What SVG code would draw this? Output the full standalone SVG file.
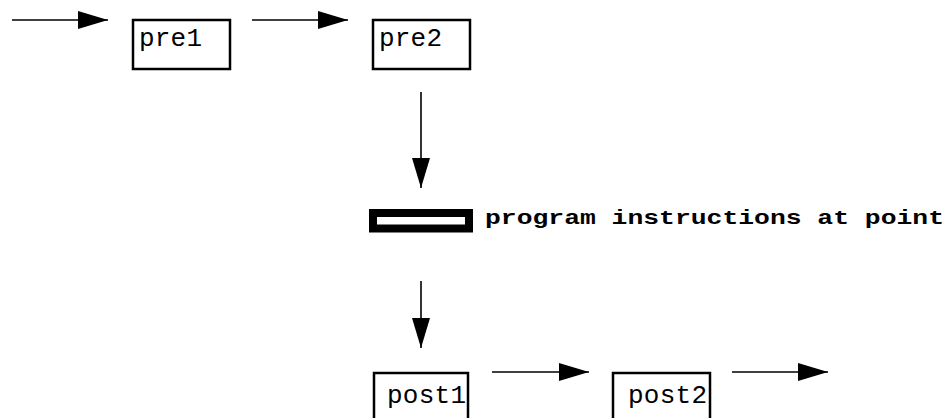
<svg xmlns="http://www.w3.org/2000/svg" width="951" height="418" viewBox="0 0 951 418">
<style>
.box{fill:#fff;stroke:#000;stroke-width:2.5}
.lbl{font-family:"Liberation Mono","Courier New",monospace;font-size:26px;fill:#000}
.bold{font-family:"Liberation Mono","Courier New",monospace;font-size:21px;font-weight:bold;fill:#000}
.conn{stroke:#000;stroke-width:1.6;fill:none;marker-end:url(#ah)}
</style>
<defs>
<marker id="ah" markerUnits="userSpaceOnUse" markerWidth="30" markerHeight="18" refX="30" refY="9" orient="auto">
<path d="M0,0 L30,9 L0,18 z" fill="#000"/>
</marker>
</defs>
<rect width="951" height="418" fill="#fff"/>
<g id="connectors">
<line class="conn" x1="12" y1="20" x2="108" y2="20"/>
<line class="conn" x1="252" y1="20" x2="348" y2="20"/>
<line class="conn" x1="421" y1="92" x2="421" y2="188"/>
<line class="conn" x1="421" y1="281" x2="421" y2="348"/>
<line class="conn" x1="492" y1="372" x2="589" y2="372"/>
<line class="conn" x1="732" y1="372" x2="828" y2="372"/>
</g>
<g id="pre1">
<rect class="box" x="133" y="20" width="97" height="49"/>
<text class="lbl" x="139" y="46" textLength="63">pre1</text>
</g>
<g id="pre2">
<rect class="box" x="373" y="20" width="97" height="49"/>
<text class="lbl" x="379" y="46" textLength="63">pre2</text>
</g>
<g id="point">
<rect x="373" y="213" width="96" height="15.5" fill="#fff" stroke="#000" stroke-width="8"/>
<text class="bold" x="485" y="224" textLength="459" lengthAdjust="spacingAndGlyphs">program instructions at point</text>
</g>
<g id="post1">
<rect class="box" x="374" y="373" width="94" height="60"/>
<text class="lbl" x="387" y="403" textLength="79">post1</text>
</g>
<g id="post2">
<rect class="box" x="613" y="373" width="97" height="60"/>
<text class="lbl" x="628" y="403" textLength="79">post2</text>
</g>
</svg>
